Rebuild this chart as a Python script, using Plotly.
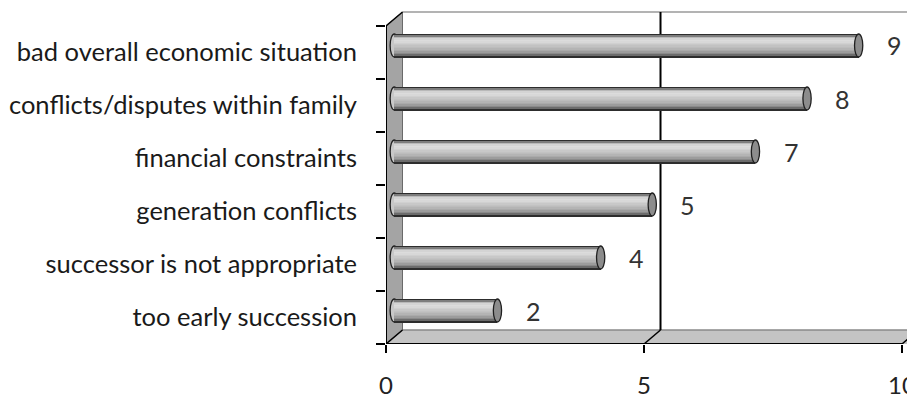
import plotly.graph_objects as go

# Reasons, listed top to bottom as shown on the chart
reasons = [
    "bad overall economic situation",
    "conflicts/disputes within family",
    "financial constraints",
    "generation conflicts",
    "successor is not appropriate",
    "too early succession",
]
counts = [9, 8, 7, 5, 4, 2]
x_ticks = [0, 5, 10]

# plot from the bottom up
cats = reasons[::-1]
vals = counts[::-1]
n = len(cats)

# pseudo-3D geometry (axis units)
DX, DY = 0.32, 0.264           # depth offset of the back wall
BASE = DX / 2                  # bars sit half way into the depth
YOFF = DY / 2
H = 0.434                      # cylinder thickness
CAP = 0.16                     # width of the elliptical end caps
X_MAX = 10.097
Y_MAX = 6.396

FONT = "Lato, 'Open Sans', sans-serif"

fig = go.Figure()

# cylinder body: horizontal strips shaded to give a rounded look
profile = [45, 125, 185, 212, 220, 216, 208, 200, 194, 188, 180, 170, 156, 138, 108, 45]
ns = len(profile)
centers = [i + 0.5 + YOFF for i in range(n)]
for k, g in enumerate(profile):
    # strip k counted from the top edge of the cylinder
    top = H / 2 - k * H / ns
    width = H / ns + 0.004
    fig.add_trace(go.Bar(
        x=vals, y=centers, base=BASE, orientation="h",
        offset=top - width, width=width,
        marker=dict(color=f"rgb({g},{g},{g})", line=dict(width=0)),
        hoverinfo="skip", showlegend=False,
    ))

shapes = []
# floor
shapes.append(dict(type="path", xref="x", yref="y", layer="below",
                   path=f"M0,0 L{X_MAX + 0.5},0 L{X_MAX + 0.5},{DY} L{DX},{DY} Z",
                   fillcolor="#c4c4c4", line=dict(width=0)))
shapes.append(dict(type="line", xref="x", yref="y", layer="below",
                   x0=DX, y0=DY, x1=X_MAX + 0.5, y1=DY,
                   line=dict(color="#8a8a8a", width=1.5)))
# left wall
shapes.append(dict(type="path", xref="x", yref="y", layer="below",
                   path=f"M0,0 L{DX},{DY} L{DX},{n + DY} L0,{n} Z",
                   fillcolor="#a4a4a4", line=dict(color="#6a6a6a", width=1)))
# back wall top edge
shapes.append(dict(type="line", xref="x", yref="y", layer="below",
                   x0=DX, y0=n + DY, x1=X_MAX + 0.5, y1=n + DY,
                   line=dict(color="#9a9a9a", width=1.5)))
# back gridlines and their floor diagonals
for t in x_ticks:
    if t > 0:
        shapes.append(dict(type="line", xref="x", yref="y", layer="below",
                           x0=t + DX, y0=DY, x1=t + DX, y1=n + DY,
                           line=dict(color="black", width=2)))
    shapes.append(dict(type="line", xref="x", yref="y", layer="below",
                       x0=t, y0=0, x1=t + DX, y1=DY,
                       line=dict(color="black", width=1.5)))
# left wall top diagonal
shapes.append(dict(type="line", xref="x", yref="y", layer="below",
                   x0=0, y0=n, x1=DX, y1=n + DY,
                   line=dict(color="black", width=1.5)))
# rounded left ends of the cylinders
for c in centers:
    shapes.append(dict(type="circle", xref="x", yref="y", layer="below",
                       x0=BASE - CAP / 2, x1=BASE + CAP / 2,
                       y0=c - H / 2, y1=c + H / 2,
                       fillcolor="#c8c8c8", line=dict(color="#202020", width=1.3)))
# end caps
for v, c in zip(vals, centers):
    shapes.append(dict(type="circle", xref="x", yref="y", layer="above",
                       x0=BASE + v - CAP / 2, x1=BASE + v + CAP / 2,
                       y0=c - H / 2, y1=c + H / 2,
                       fillcolor="#8c8c8c", line=dict(color="#202020", width=1.3)))
# front axis edges
shapes.append(dict(type="line", xref="x", yref="y", layer="above",
                   x0=0, y0=0, x1=x_ticks[-1], y1=0,
                   line=dict(color="black", width=2)))
shapes.append(dict(type="line", xref="x", yref="y", layer="above",
                   x0=0, y0=0, x1=0, y1=n,
                   line=dict(color="black", width=2)))

annotations = []
for v, c in zip(vals, centers):
    annotations.append(dict(x=v + 0.85, y=c, xref="x", yref="y",
                            text=str(v), showarrow=False,
                            font=dict(family=FONT, size=25, color="#333333")))

fig.update_layout(
    width=907, height=398,
    margin=dict(l=386, r=0, t=5, b=54, autoexpand=False),
    paper_bgcolor="white", plot_bgcolor="white",
    barmode="overlay", bargap=0,
    shapes=shapes, annotations=annotations,
    showlegend=False,
    xaxis=dict(
        range=[0, X_MAX], tickvals=x_ticks, ticktext=[str(t) for t in x_ticks],
        ticks="outside", ticklen=8, tickwidth=1.5, tickcolor="black",
        showline=False, showgrid=False, zeroline=False, automargin=False,
        ticklabelstandoff=12, ticklabeloverflow="allow",
        tickfont=dict(family=FONT, size=24, color="#222222"),
        fixedrange=True,
    ),
    yaxis=dict(
        range=[0, Y_MAX],
        tickvals=[i + 0.5 for i in range(n)], ticktext=cats,
        ticks="", showline=False, showgrid=False, zeroline=False, automargin=False,
        ticklabelstandoff=28,
        minor=dict(tickvals=list(range(n + 1)), ticks="outside",
                   ticklen=9, tickwidth=1.5, tickcolor="black", showgrid=False),
        tickfont=dict(family=FONT, size=25.5, color="#1a1a1a"),
        fixedrange=True,
    ),
)

fig.write_html("out.html")
